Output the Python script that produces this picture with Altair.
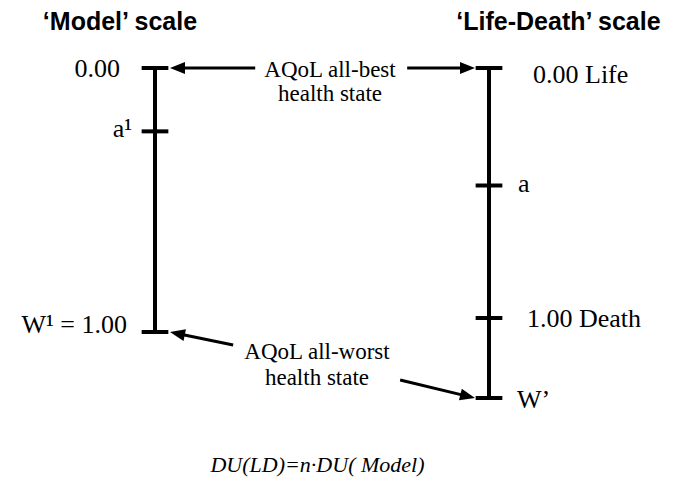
import math
import altair as alt
import pandas as pd

# ---------------- data ----------------
model_labels = ["0.00", "a¹", "W¹ = 1.00"]
model_values = [0.0, 0.24, 1.0]

ld_labels = ["0.00  Life", "a", "1.00 Death", "W’"]
ld_values = [0.0, 0.47, 1.0, 1.32]

scale_titles = ["‘Model’ scale", "‘Life-Death’ scale"]
note_best = ["AQoL all-best", "health state"]
note_worst = ["AQoL all-worst", "health state"]
formula = ["DU(LD)=n·DU( Model)"]

# ---------------- layout / scales ----------------
W, H = 664, 470
PX_X = 334.0   # px between the two vertical scales
PX_L = 264.0   # px per unit on the Model scale
PX_R = 250.0   # px per unit on the Life-Death scale
X0 = 147.0
Y0 = 60.0
T = 0.04       # half tick length (x units)

XS = alt.Scale(domain=[-X0 / PX_X, (W - X0) / PX_X], nice=False, zero=False)
YL = alt.Scale(domain=[-Y0 / PX_L, (H - Y0) / PX_L], reverse=True, nice=False, zero=False)
YR = alt.Scale(domain=[-Y0 / PX_R, (H - Y0) / PX_R], reverse=True, nice=False, zero=False)

left_df = pd.DataFrame({"label": model_labels, "value": model_values})
right_df = pd.DataFrame({"label": ld_labels, "value": ld_values})

layers = []

# vertical scale lines
layers.append(
    alt.Chart(left_df).mark_rule(strokeWidth=4, color="black").encode(
        x=alt.XDatum(0.0, scale=XS, axis=None),
        y=alt.Y("min(value):Q", scale=YL, axis=None),
        y2=alt.Y2("max(value):Q"),
    )
)
layers.append(
    alt.Chart(right_df).mark_rule(strokeWidth=4, color="black").encode(
        x=alt.XDatum(1.0, scale=XS, axis=None),
        y=alt.Y("min(value):Q", scale=YR, axis=None),
        y2=alt.Y2("max(value):Q"),
    )
)
# ticks
layers.append(
    alt.Chart(left_df).mark_rule(strokeWidth=4, color="black").encode(
        x=alt.XDatum(-T, scale=XS, axis=None),
        x2=alt.X2Datum(T),
        y=alt.Y("value:Q", scale=YL, axis=None),
    )
)
layers.append(
    alt.Chart(right_df).mark_rule(strokeWidth=4, color="black").encode(
        x=alt.XDatum(1.0 - T, scale=XS, axis=None),
        x2=alt.X2Datum(1.0 + T),
        y=alt.Y("value:Q", scale=YR, axis=None),
    )
)

# tick labels (per-label offsets are styling)
left_off = {"0.00": (-35, 9), "a¹": (-23, 6), "W¹ = 1.00": (-28, 1)}
for lab in model_labels:
    dx, dy = left_off[lab]
    layers.append(
        alt.Chart(left_df).transform_filter(alt.datum.label == lab).mark_text(
            align="right", baseline="alphabetic", dx=dx, dy=dy,
            font="Liberation Serif", fontSize=26, color="black",
        ).encode(
            x=alt.XDatum(0.0, scale=XS, axis=None),
            y=alt.Y("value:Q", scale=YL, axis=None),
            text="label:N",
        )
    )
right_off = {"0.00  Life": (44, 15), "a": (29, 6), "1.00 Death": (38, 9), "W’": (28, 10)}
for lab in ld_labels:
    dx, dy = right_off[lab]
    layers.append(
        alt.Chart(right_df).transform_filter(alt.datum.label == lab).mark_text(
            align="left", baseline="alphabetic", dx=dx, dy=dy,
            font="Liberation Serif", fontSize=26, color="black",
        ).encode(
            x=alt.XDatum(1.0, scale=XS, axis=None),
            y=alt.Y("value:Q", scale=YR, axis=None),
            text="label:N",
        )
    )

# titles
for txt, xu in zip(scale_titles, [-0.1048, 1.208]):
    layers.append(
        alt.Chart(pd.DataFrame({"t": [txt]})).mark_text(
            align="center", baseline="alphabetic", font="Liberation Sans",
            fontWeight="bold", fontSize=25, color="black",
        ).encode(
            x=alt.XDatum(xu, scale=XS, axis=None),
            y=alt.YDatum(-0.144, scale=YL, axis=None),
            text="t:N",
        )
    )

# annotation notes
def note(lines, xu, vs):
    out = []
    for line, v in zip(lines, vs):
        out.append(
            alt.Chart(pd.DataFrame({"t": [line]})).mark_text(
                align="center", baseline="middle", font="Liberation Serif",
                fontSize=23, color="black",
            ).encode(
                x=alt.XDatum(xu, scale=XS, axis=None),
                y=alt.YDatum(v, scale=YL, axis=None),
                text="t:N",
            )
        )
    return out

layers += note(note_best, 0.524, [0.008, 0.099])
layers += note(note_worst, 0.485, [1.076, 1.174])

# formula
layers.append(
    alt.Chart(pd.DataFrame({"t": formula})).mark_text(
        align="center", baseline="middle", font="Liberation Serif",
        fontStyle="italic", fontSize=22, color="black",
    ).encode(
        x=alt.XDatum(0.4865, scale=XS, axis=None),
        y=alt.YDatum(1.504, scale=YL, axis=None),
        text="t:N",
    )
)

# arrows: (from_u, from_v, tip_u, tip_v) in Model-scale units
arrow_spec = [
    (0.300, 0.0, 0.045, 0.0),
    (0.755, 0.0, 0.958, 0.0),
    (0.234, 1.049, 0.045, 1.0),
    (0.734, 1.182, 0.958, 1.250),
]
rows = []
for fu, fv, tu, tv in arrow_spec:
    dxp = (tu - fu) * PX_X
    dyp = (tv - fv) * PX_L
    ln = math.hypot(dxp, dyp)
    ang = math.degrees(math.atan2(dyp, dxp)) % 360
    sx = tu - 6 * dxp / ln / PX_X
    sy = tv - 6 * dyp / ln / PX_L
    rows.append({"x": fu, "y": fv, "x2": sx, "y2": sy, "hx": tu, "hy": tv, "angle": ang})
arrows = pd.DataFrame(rows)

layers.append(
    alt.Chart(arrows).mark_rule(strokeWidth=3, color="black").encode(
        x=alt.X("x:Q", scale=XS, axis=None),
        y=alt.Y("y:Q", scale=YL, axis=None),
        x2="x2:Q",
        y2="y2:Q",
    )
)
layers.append(
    alt.Chart(arrows).mark_point(
        shape="M0,0L-2,-0.8L-2,0.8Z", filled=True, size=225, opacity=1,
        color="black", strokeWidth=0,
    ).encode(
        x=alt.X("hx:Q", scale=XS, axis=None),
        y=alt.Y("hy:Q", scale=YL, axis=None),
        angle=alt.Angle("angle:Q", scale=None),
    )
)

chart = (
    alt.layer(*layers)
    .resolve_scale(y="independent")
    .properties(width=W, height=H, padding=0, autosize=alt.AutoSizeParams(type="none"),
                background="white")
    .configure_view(stroke=None)
)

chart.save("out.html", embed_options={"renderer": "svg", "actions": False})
